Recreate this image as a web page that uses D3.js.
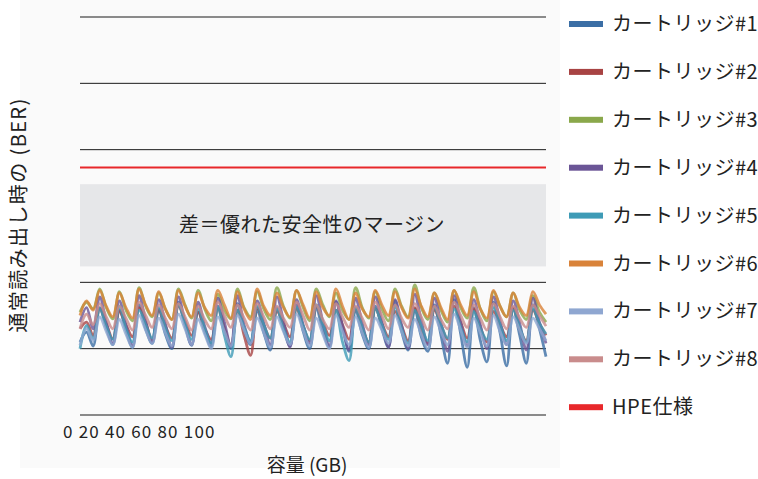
<!DOCTYPE html>
<html>
<head>
<meta charset="utf-8">
<script src="https://cdn.jsdelivr.net/npm/d3@7"></script>
<style>
  body { margin: 0; background: #fff; }
  text { font-family: "Noto Sans CJK JP", "Noto Sans", sans-serif; fill: #222; }
</style>
</head>
<body>
<div id="chart"></div>
<script>
// Chart size
var width = 758;
var height = 479;

// Legend names and colours
var seriesNames = ["カートリッジ#1", "カートリッジ#2", "カートリッジ#3", "カートリッジ#4",
                   "カートリッジ#5", "カートリッジ#6", "カートリッジ#7", "カートリッジ#8"];
var seriesColors = ["#3b6ea5", "#a84343", "#8aa84b", "#6b5596",
                    "#3e9bb6", "#d9833a", "#8fa7d1", "#c98c8c"];
var specName = "HPE仕様";
var specColor = "#e8282b";

// BER readings (log units)
var s1 = [1.10,1.25,1.04, 1.62,1.32,1.06, 1.58,1.28,1.02, 1.66,1.30,1.08, 1.60,1.22,1.00, 1.70,1.35,1.05,
          1.55,1.26,1.03, 1.64,1.30,1.00, 1.68,1.28,1.06, 1.58,1.24,0.98, 1.62,1.30,1.04, 1.66,1.26,1.00,
          1.60,1.28,1.02, 1.70,1.32,0.96, 1.58,1.22,1.00, 1.64,1.30,1.02, 1.72,1.26,0.98, 1.60,1.18,0.96,
          1.66,1.20,0.78, 1.74,1.22,0.72, 1.62,1.12,0.80, 1.70,1.24,0.74, 1.60,1.20,0.78, 1.66,1.30,0.88];
var s2 = [1.30,1.40,1.20, 1.60,1.38,1.15, 1.56,1.36,1.18, 1.62,1.40,1.12, 1.58,1.34,1.16, 1.64,1.42,1.20,
          1.55,1.30,1.14, 1.60,1.32,1.05, 1.58,1.20,0.90, 1.62,1.36,1.16, 1.56,1.38,1.18, 1.60,1.34,1.12,
          1.64,1.40,1.20, 1.58,1.36,1.14, 1.62,1.32,1.10, 1.60,1.38,1.18, 1.56,1.34,1.12, 1.62,1.30,1.08,
          1.58,1.36,1.14, 1.64,1.40,1.16, 1.60,1.32,1.10, 1.56,1.36,1.18, 1.62,1.30,1.12, 1.58,1.38,1.20];
var s3 = [1.55,1.70,1.60, 1.90,1.62,1.45, 1.86,1.58,1.42, 1.92,1.64,1.48, 1.84,1.60,1.44, 1.90,1.66,1.46,
          1.88,1.60,1.42, 1.82,1.58,1.45, 1.90,1.62,1.48, 1.86,1.60,1.44, 1.92,1.64,1.46, 1.88,1.62,1.42,
          1.90,1.66,1.48, 1.84,1.58,1.44, 1.92,1.62,1.46, 1.86,1.60,1.42, 1.90,1.64,1.48, 1.96,1.62,1.44,
          1.84,1.58,1.40, 1.88,1.62,1.46, 1.92,1.60,1.42, 1.86,1.64,1.48, 1.84,1.58,1.44, 1.80,1.55,1.40];
var s4 = [1.40,1.62,1.30, 1.78,1.40,1.08, 1.72,1.36,1.04, 1.80,1.42,1.10, 1.74,1.38,1.02, 1.78,1.40,1.06,
          1.70,1.34,1.08, 1.76,1.40,1.04, 1.80,1.36,1.10, 1.72,1.38,1.06, 1.78,1.42,1.02, 1.74,1.36,1.08,
          1.80,1.40,1.04, 1.72,1.34,0.98, 1.76,1.38,1.06, 1.78,1.40,1.02, 1.74,1.36,1.00, 1.82,1.42,1.06,
          1.76,1.38,0.96, 1.80,1.40,1.04, 1.74,1.36,1.00, 1.78,1.42,1.06, 1.72,1.38,0.98, 1.76,1.40,1.08];
var s5 = [1.00,1.35,1.15, 1.60,1.34,1.14, 1.64,1.30,1.10, 1.58,1.36,1.16, 1.62,1.32,1.12, 1.66,1.38,1.14,
          1.60,1.30,1.08, 1.62,1.20,0.88, 1.58,1.32,1.12, 1.64,1.36,1.16, 1.60,1.30,1.10, 1.62,1.34,1.14,
          1.66,1.38,1.12, 1.58,1.10,0.82, 1.62,1.32,1.10, 1.60,1.36,1.14, 1.64,1.30,1.08, 1.58,1.34,1.12,
          1.62,1.36,1.16, 1.60,1.32,1.10, 1.56,1.30,1.14, 1.62,1.36,1.12, 1.58,1.32,1.10, 1.60,1.38,1.22];
var s6 = [1.50,1.72,1.58, 1.88,1.64,1.48, 1.84,1.62,1.46, 1.90,1.66,1.50, 1.86,1.60,1.44, 1.88,1.64,1.48,
          1.84,1.62,1.50, 1.88,1.66,1.46, 1.86,1.60,1.44, 1.90,1.64,1.50, 1.84,1.62,1.48, 1.88,1.66,1.46,
          1.86,1.62,1.50, 1.90,1.64,1.44, 1.84,1.60,1.48, 1.88,1.66,1.50, 1.86,1.62,1.46, 1.90,1.64,1.48,
          1.84,1.62,1.44, 1.88,1.66,1.50, 1.86,1.60,1.46, 1.88,1.64,1.48, 1.84,1.62,1.50, 1.86,1.66,1.52];
var s7 = [1.05,1.30,1.12, 1.48,1.26,1.06, 1.44,1.22,1.02, 1.50,1.28,1.08, 1.46,1.24,1.04, 1.52,1.30,1.06,
          1.44,1.22,1.00, 1.48,1.26,1.04, 1.50,1.28,1.08, 1.46,1.24,1.02, 1.48,1.26,1.06, 1.52,1.28,1.04,
          1.46,1.22,1.00, 1.50,1.26,1.06, 1.48,1.24,1.02, 1.46,1.28,1.08, 1.50,1.26,1.04, 1.44,1.22,1.00,
          1.48,1.26,1.06, 1.52,1.28,1.02, 1.46,1.24,1.04, 1.50,1.26,1.06, 1.48,1.28,1.08, 1.46,1.30,1.12];
var s8 = [1.30,1.52,1.36, 1.68,1.48,1.30, 1.64,1.46,1.28, 1.70,1.50,1.32, 1.66,1.46,1.30, 1.68,1.48,1.28,
          1.64,1.44,1.30, 1.70,1.50,1.32, 1.66,1.46,1.28, 1.68,1.48,1.30, 1.64,1.46,1.32, 1.70,1.50,1.28,
          1.66,1.44,1.30, 1.68,1.48,1.32, 1.64,1.46,1.28, 1.70,1.50,1.30, 1.66,1.46,1.32, 1.68,1.48,1.28,
          1.64,1.44,1.30, 1.70,1.50,1.32, 1.66,1.46,1.28, 1.68,1.48,1.30, 1.64,1.46,1.32, 1.66,1.50,1.34];
var seriesValues = [s1, s2, s3, s4, s5, s6, s7, s8];

// Reference levels
var gridLevels = [0, 1, 2, 3, 4, 5, 6];
var specLevel = 3.73;
var marginBand = [2.24, 3.48];
var marginLabel = "差＝優れた安全性のマージン";

// Axis texts
var xTickLabels = ["0", "20", "40", "60", "80", "100"];
var xTitle = "容量 (GB)";
var yTitle = "通常読み出し時の (BER)";

var plot = { left: 80, right: 546, top: 17, bottom: 415 };

var svg = d3.select("#chart")
    .append("svg")
    .attr("width", width)
    .attr("height", height);

// soft blur so the traces look like the scanned original
var defs = svg.append("defs");
defs.append("filter")
    .attr("id", "soft")
    .attr("x", "-5%").attr("y", "-20%")
    .attr("width", "110%").attr("height", "140%")
    .append("feGaussianBlur")
    .attr("stdDeviation", 0.6);

// Light panel behind the chart
svg.append("rect")
    .attr("x", 20).attr("y", 0)
    .attr("width", 540).attr("height", 468)
    .attr("fill", "#fafafa");

var x = d3.scaleLinear()
    .domain([0, s1.length - 1])
    .range([plot.left, plot.right]);

var y = d3.scaleLinear()
    .domain([0, 6])
    .range([plot.bottom, plot.top]);

// Horizontal gridlines
svg.selectAll("line.grid")
    .data(gridLevels)
    .enter()
    .append("line")
    .attr("class", "grid")
    .attr("x1", plot.left)
    .attr("x2", plot.right)
    .attr("y1", function (d) { return y(d); })
    .attr("y2", function (d) { return y(d); })
    .attr("stroke", "#1a1a1a")
    .attr("stroke-width", 1);

// Safety margin band
svg.append("rect")
    .attr("x", plot.left)
    .attr("y", y(marginBand[1]))
    .attr("width", plot.right - plot.left)
    .attr("height", y(marginBand[0]) - y(marginBand[1]))
    .attr("fill", "#e6e7e9");

svg.append("text")
    .attr("x", (plot.left + plot.right) / 2 - 1)
    .attr("y", (y(marginBand[0]) + y(marginBand[1])) / 2)
    .attr("dy", "0.35em")
    .attr("text-anchor", "middle")
    .attr("font-size", 20)
    .attr("letter-spacing", 0.5)
    .text(marginLabel);

// HPE spec line
svg.append("line")
    .attr("x1", plot.left)
    .attr("x2", plot.right)
    .attr("y1", y(specLevel))
    .attr("y2", y(specLevel))
    .attr("stroke", specColor)
    .attr("stroke-width", 2);

// Cartridge lines
var line = d3.line()
    .x(function (d, i) { return x(i); })
    .y(function (d) { return y(d); })
    .curve(d3.curveCatmullRom);

svg.append("g")
    .attr("filter", "url(#soft)")
    .selectAll("path.series")
    .data(seriesValues)
    .enter()
    .append("path")
    .attr("class", "series")
    .attr("d", line)
    .attr("fill", "none")
    .attr("stroke", function (d, i) { return seriesColors[i]; })
    .attr("stroke-width", 2.8)
    .attr("stroke-opacity", 0.8)
    .attr("stroke-linejoin", "round");

// X tick labels (set as one run of text under the plot)
svg.append("text")
    .attr("x", 63)
    .attr("y", 438)
    .attr("font-size", 17)
    .attr("letter-spacing", 1.2)
    .text(xTickLabels.join(" "));

svg.append("text")
    .attr("x", 307)
    .attr("y", 472)
    .attr("text-anchor", "middle")
    .attr("font-size", 19)
    .text(xTitle);

svg.append("text")
    .attr("transform", "translate(26,215) rotate(-90)")
    .attr("text-anchor", "middle")
    .attr("font-size", 20)
    .attr("letter-spacing", 1.4)
    .text(yTitle);

// Legend
var legendItems = seriesNames.map(function (n, i) { return { name: n, color: seriesColors[i] }; });
legendItems.push({ name: specName, color: specColor });

var legend = svg.selectAll("g.legend")
    .data(legendItems)
    .enter()
    .append("g")
    .attr("class", "legend")
    .attr("transform", function (d, i) { return "translate(569," + (24 + i * 47.9) + ")"; });

legend.append("rect")
    .attr("x", 0).attr("y", -3)
    .attr("width", 34).attr("height", 6)
    .attr("fill", function (d) { return d.color; });

legend.append("text")
    .attr("x", 43)
    .attr("dy", "0.35em")
    .attr("font-size", 20)
    .attr("letter-spacing", 0.5)
    .text(function (d) { return d.name; });
</script>
</body>
</html>
